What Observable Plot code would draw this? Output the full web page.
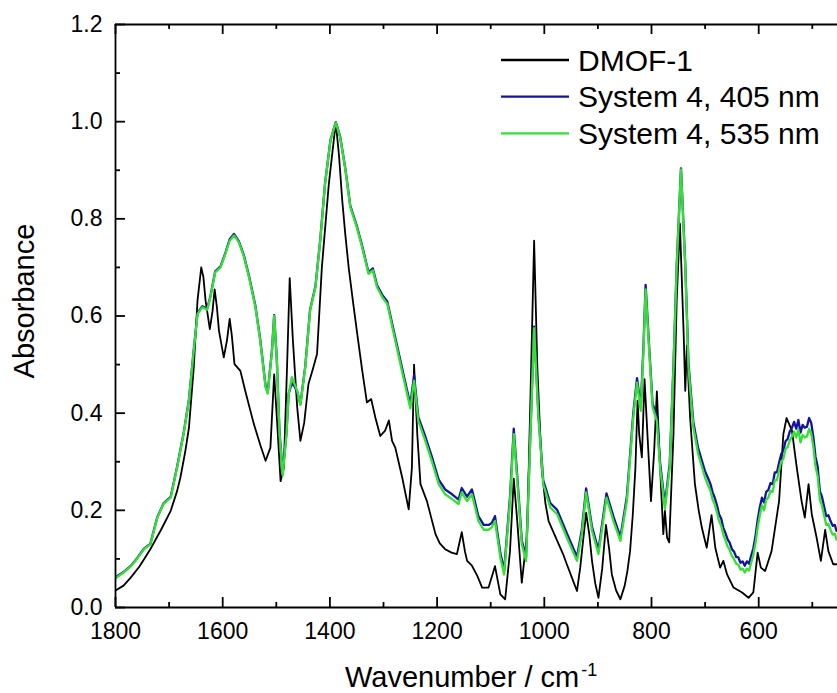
<!DOCTYPE html>
<html>
<head>
<meta charset="utf-8">
<script src="https://cdn.jsdelivr.net/npm/d3@7"></script>
<script src="https://cdn.jsdelivr.net/npm/@observablehq/plot@0.6"></script>
<style>
  html, body { margin: 0; padding: 0; background: #fff; }
  #chart { width: 837px; height: 693px; }
</style>
</head>
<body>
<div id="chart"></div>
<script>
// ---------- data ----------
const seriesNames = ["DMOF-1", "System 4, 405 nm", "System 4, 535 nm"];
const seriesColors = ["#000000", "#1414a0", "#33e033"];

const xTickValues = [1800, 1600, 1400, 1200, 1000, 800, 600];
const xMinorTicks = [1700, 1500, 1300, 1100, 900, 700, 500];
const yTickValues = [0.0, 0.2, 0.4, 0.6, 0.8, 1.0, 1.2];
const yMinorTicks = [0.1, 0.3, 0.5, 0.7, 0.9, 1.1];

const dmofWavenumber = [1800,1785,1772,1755,1735,1715,1697,1685,1679,1670,1663,1654,1647,1640,1636,1632,1624,1619,1615,1611,1607,1598,1592,1587,1583,1578,1567,1558,1542,1530,1520,1511,1504,1499,1492,1486,1480,1475,1469,1461,1455,1448,1440,1432,1424,1415,1402,1389,1383,1377,1371,1365,1357,1349,1340,1331,1323,1315,1306,1297,1290,1284,1278,1265,1253,1247,1243,1237,1231,1219,1211,1203,1195,1185,1173,1163,1154,1148,1144,1135,1125,1116,1104,1092,1082,1073,1064,1057,1051,1042,1032,1026,1019,1013,1005,998,992,983,973,965,958,948,939,933,922,916,911,905,899,892,885,879,874,866,858,850,845,840,835,830,826,823,818,813,806,801,795,790,784,778,775,771,767,759,753,747,740,737,734,728,719,712,706,697,688,681,672,666,659,647,631,619,610,602,596,588,576,562,554,548,538,529,520,514,507,501,492,484,476,470,461,455];
const dmofAbsorbance = [0.035,0.045,0.061,0.085,0.120,0.160,0.199,0.240,0.267,0.320,0.370,0.494,0.632,0.700,0.680,0.632,0.573,0.610,0.655,0.620,0.570,0.515,0.550,0.594,0.560,0.501,0.487,0.446,0.378,0.335,0.302,0.329,0.480,0.391,0.260,0.288,0.494,0.678,0.549,0.412,0.343,0.380,0.460,0.490,0.522,0.700,0.872,0.998,0.930,0.838,0.765,0.700,0.630,0.563,0.490,0.422,0.429,0.390,0.353,0.364,0.385,0.343,0.329,0.267,0.202,0.288,0.500,0.357,0.254,0.219,0.185,0.151,0.132,0.120,0.113,0.110,0.155,0.115,0.096,0.086,0.065,0.041,0.041,0.085,0.027,0.017,0.116,0.265,0.185,0.051,0.151,0.426,0.755,0.494,0.288,0.215,0.178,0.155,0.130,0.110,0.089,0.060,0.034,0.082,0.195,0.150,0.096,0.050,0.020,0.080,0.170,0.120,0.068,0.035,0.017,0.045,0.075,0.116,0.190,0.288,0.426,0.357,0.309,0.470,0.323,0.219,0.323,0.445,0.288,0.151,0.199,0.144,0.134,0.357,0.632,0.790,0.563,0.446,0.539,0.391,0.254,0.200,0.164,0.123,0.190,0.123,0.082,0.096,0.068,0.041,0.031,0.020,0.031,0.113,0.082,0.075,0.116,0.219,0.357,0.390,0.364,0.288,0.219,0.185,0.254,0.192,0.144,0.096,0.160,0.116,0.089,0.089];

const s405Wavenumber = [1800,1785,1772,1760,1747,1735,1722,1710,1697,1685,1673,1663,1654,1647,1638,1629,1623,1614,1604,1595,1587,1579,1570,1561,1551,1539,1530,1520,1516,1508,1504,1499,1494,1488,1481,1477,1471,1466,1461,1455,1446,1437,1427,1418,1409,1399,1389,1381,1371,1362,1350,1340,1328,1320,1312,1302,1293,1278,1263,1250,1243,1235,1222,1210,1197,1185,1172,1160,1154,1144,1135,1123,1113,1104,1098,1092,1082,1075,1064,1057,1050,1042,1034,1028,1019,1011,1002,989,976,958,939,930,922,911,899,884,871,858,846,834,827,820,815,811,804,798,790,784,775,766,759,753,745,737,731,722,713,700,694,690,686,682,678,674,670,666,662,658,654,650,646,642,638,634,630,626,622,618,614,610,606,602,598,594,590,586,582,578,574,570,566,562,558,554,550,546,542,538,534,530,526,522,518,514,510,506,502,498,494,490,486,482,478,474,470,466,462,458,455];
const s405Absorbance = [0.062,0.073,0.085,0.101,0.121,0.131,0.186,0.215,0.228,0.290,0.358,0.428,0.531,0.606,0.620,0.615,0.640,0.692,0.702,0.730,0.758,0.769,0.754,0.727,0.683,0.621,0.552,0.456,0.443,0.531,0.602,0.510,0.360,0.278,0.360,0.440,0.462,0.455,0.444,0.419,0.496,0.613,0.661,0.757,0.874,0.962,0.999,0.970,0.902,0.827,0.786,0.745,0.690,0.698,0.663,0.643,0.630,0.555,0.481,0.418,0.478,0.392,0.352,0.311,0.263,0.243,0.233,0.222,0.246,0.228,0.243,0.188,0.170,0.170,0.174,0.188,0.112,0.076,0.228,0.368,0.263,0.138,0.104,0.294,0.578,0.398,0.262,0.215,0.201,0.153,0.104,0.160,0.245,0.166,0.118,0.235,0.187,0.145,0.228,0.400,0.472,0.412,0.538,0.664,0.530,0.420,0.394,0.298,0.212,0.296,0.500,0.704,0.904,0.706,0.502,0.382,0.328,0.280,0.265,0.254,0.237,0.226,0.211,0.192,0.183,0.164,0.153,0.140,0.133,0.120,0.115,0.104,0.103,0.092,0.095,0.086,0.095,0.090,0.107,0.122,0.147,0.180,0.206,0.226,0.216,0.238,0.242,0.256,0.254,0.278,0.278,0.298,0.316,0.322,0.342,0.347,0.362,0.370,0.382,0.368,0.386,0.360,0.376,0.370,0.372,0.390,0.380,0.350,0.310,0.290,0.240,0.228,0.208,0.188,0.190,0.178,0.168,0.170,0.158];

const s535Wavenumber = [1800,1785,1772,1760,1747,1735,1722,1710,1697,1685,1673,1663,1654,1647,1638,1629,1623,1614,1604,1595,1587,1579,1570,1561,1551,1539,1530,1520,1516,1508,1504,1499,1494,1488,1481,1477,1471,1466,1461,1455,1446,1437,1427,1418,1409,1399,1389,1381,1371,1362,1350,1340,1328,1320,1312,1302,1293,1278,1263,1250,1243,1235,1222,1210,1197,1185,1172,1160,1154,1144,1135,1123,1113,1104,1098,1092,1082,1075,1064,1057,1050,1042,1034,1028,1019,1011,1002,989,976,958,939,930,922,911,899,884,871,858,846,834,827,820,815,811,804,798,790,784,775,766,759,753,745,737,731,722,713,700,694,690,686,682,678,674,670,666,662,658,654,650,646,642,638,634,630,626,622,618,614,610,606,602,598,594,590,586,582,578,574,570,566,562,558,554,550,546,542,538,534,530,526,522,518,514,510,506,502,498,494,490,486,482,478,474,470,466,462,458,455];
const s535Absorbance = [0.060,0.072,0.084,0.100,0.120,0.130,0.185,0.214,0.226,0.288,0.357,0.426,0.529,0.604,0.618,0.613,0.638,0.690,0.700,0.728,0.755,0.766,0.752,0.724,0.680,0.618,0.549,0.453,0.440,0.529,0.600,0.508,0.357,0.272,0.357,0.439,0.474,0.460,0.446,0.417,0.494,0.611,0.659,0.755,0.872,0.961,0.998,0.968,0.900,0.824,0.783,0.742,0.687,0.694,0.659,0.638,0.625,0.549,0.474,0.410,0.467,0.384,0.343,0.302,0.254,0.233,0.223,0.213,0.237,0.219,0.233,0.178,0.160,0.160,0.165,0.178,0.103,0.068,0.219,0.357,0.254,0.130,0.096,0.288,0.575,0.391,0.254,0.206,0.192,0.144,0.096,0.151,0.237,0.158,0.110,0.226,0.178,0.137,0.219,0.391,0.463,0.405,0.529,0.655,0.522,0.412,0.384,0.288,0.203,0.288,0.494,0.700,0.902,0.700,0.494,0.371,0.316,0.267,0.250,0.240,0.222,0.212,0.196,0.178,0.168,0.150,0.138,0.126,0.118,0.106,0.100,0.090,0.088,0.078,0.080,0.072,0.080,0.076,0.092,0.108,0.132,0.164,0.190,0.210,0.200,0.222,0.226,0.240,0.238,0.262,0.262,0.282,0.300,0.306,0.326,0.330,0.344,0.352,0.362,0.350,0.366,0.340,0.355,0.350,0.352,0.368,0.358,0.330,0.290,0.270,0.222,0.210,0.190,0.170,0.172,0.160,0.150,0.152,0.140];

// ---------- build tables ----------
const toRows = (wn, ab) => wn.map((w, i) => ({wn: w, a: ab[i]}));
const dmofRows = toRows(dmofWavenumber, dmofAbsorbance);
const s405Rows = toRows(s405Wavenumber, s405Absorbance);
const s535Rows = toRows(s535Wavenumber, s535Absorbance);

// ---------- layout ----------
const W = 837, H = 693, mL = 115, mR = 0, mT = 24, mB = 86;
const plotW = W - mL - mR, plotH = H - mT - mB;
const font = "'Liberation Sans', Arial, Helvetica, sans-serif";
const axisStroke = 1.8;

const chart = Plot.plot({
  width: W, height: H,
  marginLeft: mL, marginRight: mR, marginTop: mT, marginBottom: mB,
  style: {fontFamily: font, fontSize: "23px", background: "#fff", color: "#000", overflow: "visible"},
  x: {domain: [1800, 453]},
  y: {domain: [0, 1.2]},
  marks: [
    Plot.line(dmofRows, {x: "wn", y: "a", stroke: seriesColors[0], strokeWidth: 1.8, clip: true}),
    Plot.line(s405Rows, {x: "wn", y: "a", stroke: seriesColors[1], strokeWidth: 2.3, clip: true}),
    Plot.line(s535Rows, {x: "wn", y: "a", stroke: seriesColors[2], strokeWidth: 2.3, clip: true}),
    Plot.ruleY([0, 1.2], {stroke: "#000", strokeWidth: axisStroke}),
    Plot.ruleX([1800], {stroke: "#000", strokeWidth: axisStroke}),
    Plot.tickX(xTickValues, {x: d => d, insetTop: plotH - 10, stroke: "#000", strokeWidth: axisStroke}),
    Plot.tickX(xMinorTicks, {x: d => d, insetTop: plotH - 5, stroke: "#000", strokeWidth: axisStroke}),
    Plot.tickX(xTickValues, {x: d => d, insetBottom: plotH - 10, stroke: "#000", strokeWidth: axisStroke}),
    Plot.tickX(xMinorTicks, {x: d => d, insetBottom: plotH - 5, stroke: "#000", strokeWidth: axisStroke}),
    Plot.tickY(yTickValues, {y: d => d, insetRight: plotW - 10, stroke: "#000", strokeWidth: axisStroke}),
    Plot.tickY(yMinorTicks, {y: d => d, insetRight: plotW - 5, stroke: "#000", strokeWidth: axisStroke}),
    Plot.axisX({ticks: xTickValues, tickSize: 0, tickPadding: 15, fontSize: 23, tickFormat: d3.format("d"), label: null}),
    Plot.axisY({ticks: yTickValues, tickSize: 0, tickPadding: 13, fontSize: 23, tickFormat: d3.format(".1f"), label: null})
  ]
});

document.getElementById("chart").appendChild(chart);

// ---------- titles and legend ----------
const svg = d3.select(chart);

svg.append("text")
  .attr("transform", "translate(34,301) rotate(-90)")
  .attr("text-anchor", "middle")
  .attr("font-family", font)
  .attr("font-size", 29)
  .attr("fill", "#000")
  .text("Absorbance");

const xt = svg.append("text")
  .attr("x", 345).attr("y", 687)
  .attr("text-anchor", "start")
  .attr("font-family", font)
  .attr("font-size", 29)
  .attr("fill", "#000");
xt.append("tspan").text("Wavenumber / cm");
xt.append("tspan").attr("font-size", 18).attr("dy", -11).attr("dx", 2).text("-1");

const legend = svg.append("g")
  .attr("font-family", font)
  .attr("font-size", 30)
  .attr("text-anchor", "start");
const rowY = [60, 96.7, 133.3];
seriesNames.forEach((name, i) => {
  legend.append("line")
    .attr("x1", 501).attr("x2", 569)
    .attr("y1", rowY[i]).attr("y2", rowY[i])
    .attr("stroke", seriesColors[i]).attr("stroke-width", 2.3);
  legend.append("text")
    .attr("x", 578).attr("y", rowY[i] + 10.5)
    .attr("text-anchor", "start")
    .attr("fill", "#000")
    .text(name);
});
</script>
</body>
</html>
